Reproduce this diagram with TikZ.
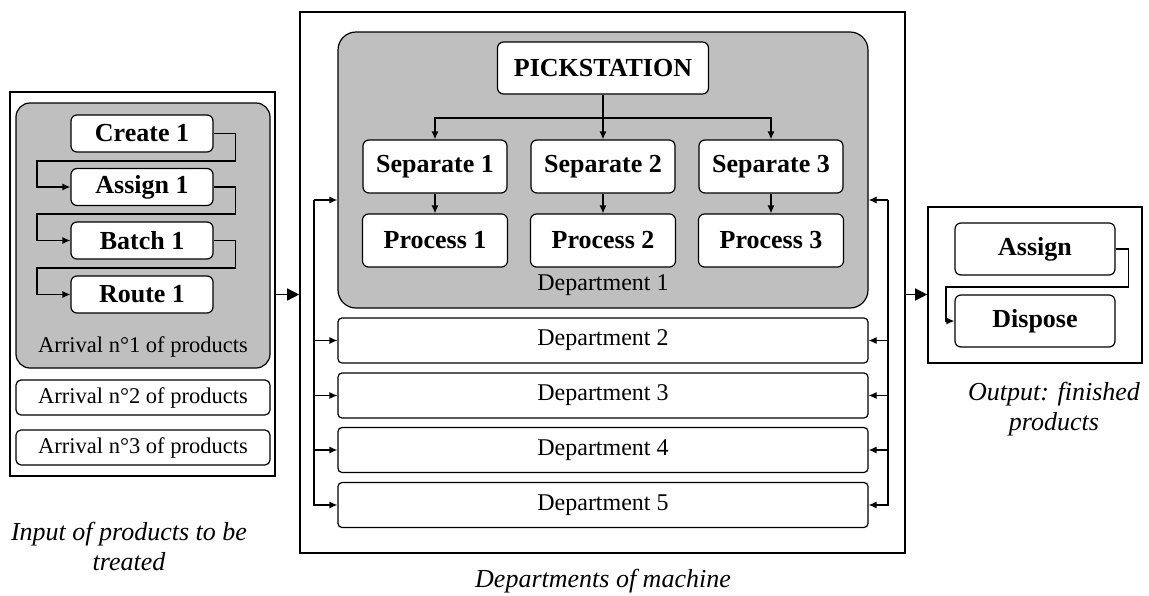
\documentclass[tikz,border=0pt]{standalone}
\usepackage{fontspec}
\setmainfont{Liberation Serif}
\usetikzlibrary{positioning}
\usetikzlibrary{arrows.meta}
\tikzset{
    box/.style=
    { % White block with a bold name
        draw,
        fill=white,
        rounded corners=6pt,
        line width=1.2pt,
        inner sep=0pt,
        font=\fontsize{26}{28}\selectfont\bfseries
    },
    panel/.style={ % Grey rounded group
        draw,
        fill=gray!50,
        rounded corners=14pt,
        line width=1.2pt,
        inner sep=0pt
    },
    frame/.style={ % Plain outer frame
        draw,
        line width=1.6pt,
        inner sep=0pt
    },
    arrival/.style={ % Small arrival bars
        draw,
        fill=white,
        rounded corners=5pt,
        line width=1.2pt,
        minimum width=254pt,
        minimum height=35pt,
        inner sep=0pt,
        font=\fontsize{22.5}{24}\selectfont
    },
    dept/.style={ % Department bars
        draw,
        fill=white,
        rounded corners=4pt,
        line width=1.2pt,
        minimum width=530pt,
        minimum height=45pt,
        inner sep=0pt,
        font=\fontsize{24}{26}\selectfont
    },
    link/.style={ % Thin connectors
        -{Latex[length=8pt,width=7pt]}, % Small filled heads
        line width=1.2pt
    },
    bigarrow/.style={ % Arrows between the three frames
        -{Triangle[length=12pt,width=12pt]},
        line width=1.4pt
    },
    note/.style={font=\fontsize{26}{30}\selectfont\itshape, align=center}
}

\begin{document}
\begin{tikzpicture}[x=1pt,y=-1pt]
\useasboundingbox (0,0) rectangle (1149,595);

% Input side
\node [frame,minimum width=265pt,minimum height=384pt] (input) at (142.5,284) {};
\node [panel,minimum width=254pt,minimum height=265pt] (arr1) at (143,235.5) {};
\node [box,minimum width=142pt,minimum height=37pt] (create1) at (142,133.5) {Create 1};
\node [box,minimum width=142pt,minimum height=37pt] (assign1) at (142,187) {Assign 1};
\node [box,minimum width=142pt,minimum height=37pt] (batch1)  at (142,240.5) {Batch 1};
\node [box,minimum width=142pt,minimum height=37pt] (route1)  at (142,294.5) {Route 1};
\node [font=\fontsize{22.5}{24}\selectfont] (arr1txt) at (143,347) {Arrival n°1 of products};
\node [arrival] (arr2) at (143,397.5) {Arrival n°2 of products};
\node [arrival] (arr3) at (143,447.5) {Arrival n°3 of products};

\foreach \a/\b/\y in {create1/assign1/161, assign1/batch1/214, batch1/route1/268}
    \draw [link] (\a.east) -- ++(22,0) |- (37,\y) |- (\b.west);

% Machine
\node [frame,minimum width=605pt,minimum height=541pt] (machine) at (602.5,282.5) {};
\node [panel,rounded corners=18pt,minimum width=530pt,minimum height=276pt] (dep1) at (603,170) {};
\node [box,minimum width=211pt,minimum height=52pt] (pick) at (603,68) {PICKSTATION};
\foreach \i/\x in {1/435,2/603,3/771}
{
    \node [box,minimum width=144pt,minimum height=53pt] (sep\i)  at (\x,166.5) {Separate \i};
    \node [box,minimum width=145pt,minimum height=53pt] (proc\i) at (\x,240.5) {Process \i};
    \draw [link] (pick.south) -- (603,118) -| (sep\i.north);
    \draw [link] (sep\i) -- (proc\i);
}
\node [font=\fontsize{24}{26}\selectfont] (dep1txt) at (603,285) {Department 1};
\foreach \i/\y in {2/340.5,3/395.5,4/450,5/505}
    \node [dept] (dep\i) at (603,\y) {Department \i};

\coordinate (lbus) at (314,200);
\coordinate (rbus) at (888,200);
\draw [link] (lbus) -- (lbus -| dep1.west);
\draw [link] (lbus) |- (dep5.west);
\draw [link] (rbus) -- (rbus -| dep1.east);
\draw [link] (rbus) |- (dep5.east);
\foreach \i in {2,3,4}
{
    \draw [link] (lbus |- dep\i.west) -- (dep\i.west);
    \draw [link] (rbus |- dep\i.east) -- (dep\i.east);
}

% Output side
\node [frame,minimum width=214pt,minimum height=156pt] (output) at (1035,285) {};
\node [box,minimum width=160pt,minimum height=52pt] (assign)  at (1035,249) {Assign};
\node [box,minimum width=160pt,minimum height=52pt] (dispose) at (1035,321) {Dispose};
\draw [link] (assign.east) -- ++(13,0) |- (946,287) |- (dispose.west);

\draw [bigarrow] (input.east |- route1) -- (machine.west |- route1);
\draw [bigarrow] (machine.east |- route1) -- (output.west |- route1);

\node [note] (intxt)  at (129,546) {Input of products to be\\treated};
\node [note] (outtxt) at (1054,409) {Output: finished\\products};
\node [note] (mtxt)   at (603,581) {Departments of machine};
\end{tikzpicture}
\end{document}
